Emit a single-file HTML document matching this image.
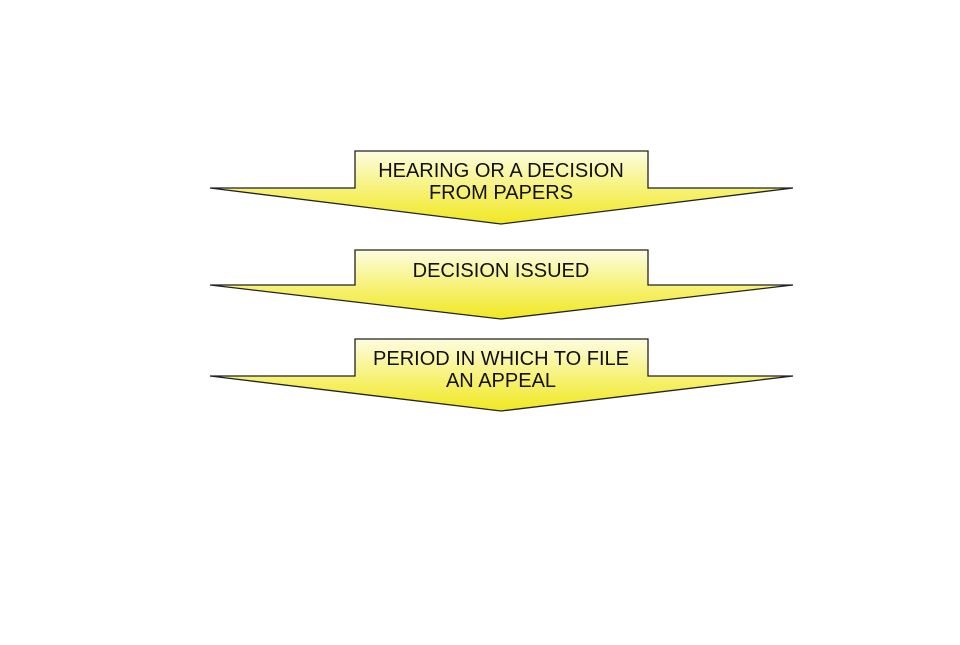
<!DOCTYPE html>
<html><head><meta charset="utf-8"><style>body{margin:0;background:#fff}</style></head>
<body>
<svg width="960" height="640" viewBox="0 0 960 640" xmlns="http://www.w3.org/2000/svg" font-family="Liberation Sans, Arial, sans-serif" font-size="20" text-anchor="middle" fill="#111">
<defs>
<linearGradient id="g" x1="0" y1="0" x2="0" y2="1">
<stop offset="0" stop-color="#fdfde0"/><stop offset="0.6" stop-color="#f6f06a"/><stop offset="1" stop-color="#f0e820"/>
</linearGradient>
</defs>
<g stroke="#222" stroke-width="1.3" fill="url(#g)">
<polygon points="355,151 648,151 648,188 793,188 501,224 210,188 355,188"/>
<polygon points="355,250 648,250 648,285 793,285 501,319 210,285 355,285"/>
<polygon points="355,339 648,339 648,376 793,376 501,411 210,376 355,376"/>
</g>
<text x="501" y="177">HEARING OR A DECISION</text>
<text x="501" y="199">FROM PAPERS</text>
<text x="501" y="277">DECISION ISSUED</text>
<text x="501" y="365">PERIOD IN WHICH TO FILE</text>
<text x="501" y="387">AN APPEAL</text>
</svg>
</body></html>
